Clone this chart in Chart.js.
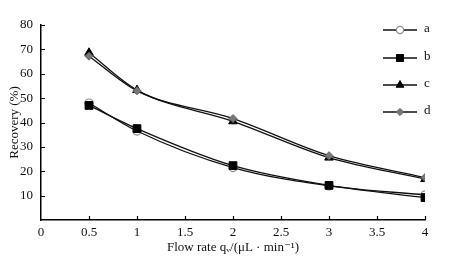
<!DOCTYPE html>
<html>
<head>
<meta charset="utf-8">
<script src="https://cdn.jsdelivr.net/npm/chart.js@4"></script>
<style>
  html, body { margin: 0; padding: 0; background: #fff; }
  #wrap { width: 451px; height: 259px; }
</style>
</head>
<body>
<div id="wrap"><canvas id="chart" width="451" height="259"></canvas></div>
<script>
const flowRates = [0.5, 1, 2, 3, 4];
const seriesNames = ['a', 'b', 'c', 'd'];
const recoveryA = [48, 36.5, 21.5, 14, 10.3];
const recoveryB = [47, 37.5, 22.3, 14.2, 9.2];
const recoveryC = [68.6, 53.3, 40.5, 25.6, 16.8];
const recoveryD = [67.2, 53, 41.6, 26.4, 17.4];
const xTicks = [0, 0.5, 1, 1.5, 2, 2.5, 3, 3.5, 4];
const yTicks = [10, 20, 30, 40, 50, 60, 70, 80];

const font = "'Liberation Serif', 'DejaVu Serif', serif";

const toPoints = (vals) => vals.map((v, i) => ({ x: flowRates[i], y: v }));

const markers = [
  { pointStyle: 'circle', radius: 4, borderColor: '#8a8a8a', backgroundColor: '#fff', borderWidth: 1.2, order: 4 },
  { pointStyle: 'rect', radius: 5.5, borderColor: '#000', backgroundColor: '#000', borderWidth: 1, order: 3 },
  { pointStyle: 'triangle', radius: 5, borderColor: '#000', backgroundColor: '#000', borderWidth: 1, order: 2 },
  { pointStyle: 'rectRot', radius: 4, borderColor: '#666', backgroundColor: '#777', borderWidth: 1, order: 1 },
];

const allData = [recoveryA, recoveryB, recoveryC, recoveryD];

const datasets = allData.map((vals, i) => ({
  label: seriesNames[i],
  data: toPoints(vals),
  borderColor: '#111',
  borderWidth: 1.3,
  cubicInterpolationMode: 'monotone',
  pointStyle: markers[i].pointStyle,
  pointRadius: markers[i].radius,
  pointBorderColor: markers[i].borderColor,
  pointBackgroundColor: markers[i].backgroundColor,
  pointBorderWidth: markers[i].borderWidth,
  order: markers[i].order,
}));

// inward tick marks
const innerTicks = {
  id: 'innerTicks',
  afterDraw(chart) {
    const { ctx, scales: { x, y } } = chart;
    ctx.save();
    ctx.strokeStyle = '#000';
    ctx.lineWidth = 1.2;
    ctx.beginPath();
    xTicks.forEach(v => {
      if (v === 0) return;
      const px = Math.round(x.getPixelForValue(v)) + 0.5;
      ctx.moveTo(px, y.bottom);
      ctx.lineTo(px, y.bottom - 4);
    });
    yTicks.forEach(v => {
      const py = Math.round(y.getPixelForValue(v)) + 0.5;
      ctx.moveTo(x.left, py);
      ctx.lineTo(x.left + 4, py);
    });
    ctx.stroke();
    ctx.restore();
  }
};

// legend at the top right: line + marker + label
const sideLegend = {
  id: 'sideLegend',
  afterDraw(chart) {
    const { ctx } = chart;
    const rows = [30, 58, 85, 112];
    ctx.save();
    chart.data.datasets.forEach((ds, i) => {
      const yy = rows[i];
      ctx.strokeStyle = '#111';
      ctx.lineWidth = 1.3;
      ctx.beginPath();
      ctx.moveTo(383, yy);
      ctx.lineTo(417, yy);
      ctx.stroke();
      ctx.fillStyle = ds.pointBackgroundColor;
      ctx.strokeStyle = ds.pointBorderColor;
      ctx.lineWidth = ds.pointBorderWidth;
      Chart.helpers.drawPoint(ctx, {
        pointStyle: ds.pointStyle,
        radius: ds.pointRadius * 0.9,
        borderWidth: ds.pointBorderWidth,
        rotation: 0,
      }, 400, yy);
      ctx.fillStyle = '#111';
      ctx.font = "13px " + font;
      ctx.textBaseline = 'middle';
      ctx.textAlign = 'left';
      ctx.fillText(ds.label, 424, yy - 1);
    });
    ctx.restore();
  }
};

new Chart(document.getElementById('chart'), {
  type: 'line',
  data: { datasets },
  options: {
    responsive: false,
    animation: false,
    layout: { padding: { top: 25, right: 26, left: 7, bottom: 4 } },
    plugins: {
      legend: { display: false },
      tooltip: { enabled: false },
    },
    scales: {
      x: {
        type: 'linear',
        min: 0,
        max: 4,
        afterBuildTicks: (scale) => { scale.ticks = xTicks.map(v => ({ value: v })); },
        afterFit: (scale) => { scale.height = 35; },
        grid: { display: false, drawTicks: false },
        border: { display: true, color: '#000', width: 1.5 },
        ticks: {
          color: '#111',
          font: { family: font, size: 13 },
          padding: 5,
          maxRotation: 0,
          autoSkip: false,
          callback: (v) => String(v),
        },
        title: {
          display: true,
          text: 'Flow rate qᵥ/(μL · min⁻¹)',
          color: '#111',
          font: { family: font, size: 13 },
          padding: { top: 0, bottom: 0 },
        },
      },
      y: {
        min: 0,
        max: 80,
        afterBuildTicks: (scale) => { scale.ticks = yTicks.map(v => ({ value: v })); },
        afterFit: (scale) => { scale.width = 34; },
        grid: { display: false, drawTicks: false },
        border: { display: true, color: '#000', width: 1.5 },
        ticks: {
          color: '#111',
          font: { family: font, size: 13 },
          padding: 8,
        },
        title: {
          display: true,
          text: 'Recovery (%)',
          color: '#111',
          font: { family: font, size: 13 },
          padding: { top: 0, bottom: 0 },
        },
      },
    },
  },
  plugins: [innerTicks, sideLegend],
});
</script>
</body>
</html>
